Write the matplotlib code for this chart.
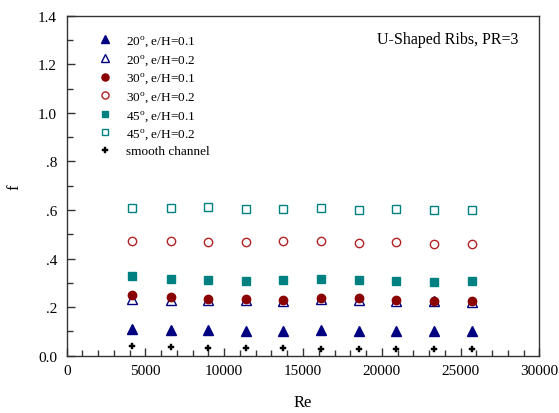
import matplotlib
matplotlib.use("Agg")
import matplotlib.pyplot as plt
from matplotlib.ticker import MultipleLocator, FixedLocator, FixedFormatter

plt.rcParams['font.family'] = ['Liberation Serif', 'DejaVu Serif']
plt.rcParams['mathtext.fontset'] = 'custom'
plt.rcParams['mathtext.rm'] = 'Liberation Serif'

re = [4150, 6600, 8970, 11350, 13750, 16120, 18530, 20900, 23300, 25700]
f_20_01 = [0.110, 0.106, 0.106, 0.102, 0.102, 0.106, 0.102, 0.103, 0.102, 0.102]
f_20_02 = [0.232, 0.231, 0.229, 0.229, 0.226, 0.232, 0.230, 0.226, 0.224, 0.223]
f_30_01 = [0.249, 0.240, 0.235, 0.235, 0.229, 0.239, 0.239, 0.229, 0.226, 0.226]
f_30_02 = [0.472, 0.472, 0.468, 0.468, 0.472, 0.471, 0.464, 0.467, 0.459, 0.459]
f_45_01 = [0.327, 0.317, 0.310, 0.306, 0.310, 0.316, 0.313, 0.307, 0.303, 0.309]
f_45_02 = [0.607, 0.607, 0.612, 0.603, 0.605, 0.610, 0.600, 0.602, 0.600, 0.600]
f_smooth = [0.040, 0.036, 0.033, 0.030, 0.030, 0.029, 0.029, 0.026, 0.026, 0.026]

labels = [r"20$^{\mathrm{o}}$, e/H=0.1", r"20$^{\mathrm{o}}$, e/H=0.2",
          r"30$^{\mathrm{o}}$, e/H=0.1", r"30$^{\mathrm{o}}$, e/H=0.2",
          r"45$^{\mathrm{o}}$, e/H=0.1", r"45$^{\mathrm{o}}$, e/H=0.2",
          "smooth channel"]
y_ticks = [0.0, 0.2, 0.4, 0.6, 0.8, 1.0, 1.2, 1.4]
y_tick_labels = ['0.0', '.2', '.4', '.6', '.8', '1.0', '1.2', '1.4']
x_ticks = [0, 5000, 10000, 15000, 20000, 25000, 30000]

navy = '#000080'
dred = '#8B0000'
red_open = '#B22222'
teal = '#008080'

fig = plt.figure(figsize=(5.59, 4.14), dpi=100)
ax = fig.add_axes([0.1193, 0.1384, 0.8455, 0.8213])

ax.plot(re, f_20_01, ls='none', marker='^', ms=7, mfc=navy, mec=navy, label=labels[0])
ax.plot(re, f_20_02, ls='none', marker='^', ms=7, mfc='none', mec=navy, mew=1.0, label=labels[1])
ax.plot(re, f_30_01, ls='none', marker='o', ms=6, mfc=dred, mec=dred, label=labels[2])
ax.plot(re, f_30_02, ls='none', marker='o', ms=6, mfc='none', mec=red_open, mew=1.0, label=labels[3])
ax.plot(re, f_45_01, ls='none', marker='s', ms=5.5, mfc=teal, mec=teal, label=labels[4])
ax.plot(re, f_45_02, ls='none', marker='s', ms=5.5, mfc='none', mec=teal, mew=1.0, label=labels[5])
ax.plot(re, f_smooth, ls='none', marker='P', ms=5, mfc='black', mec='black', mew=0.3, label=labels[6])

ax.set_xlim(0, 30000)
ax.set_ylim(0, 1.4)
ax.xaxis.set_major_locator(FixedLocator(x_ticks))
ax.xaxis.set_minor_locator(MultipleLocator(1000))
ax.yaxis.set_major_locator(FixedLocator(y_ticks))
ax.yaxis.set_major_formatter(FixedFormatter(y_tick_labels))
ax.yaxis.set_minor_locator(MultipleLocator(0.1))
ax.tick_params(which='both', direction='in', top=False, right=False, labelsize=11, color='#333333')
ax.tick_params(which='major', length=6, width=1)
ax.tick_params(which='minor', length=4, width=1)
ax.tick_params(axis='y', which='major', pad=7)
ax.tick_params(axis='x', which='major', pad=6)
for s in ax.spines.values():
    s.set_color('#333333')
    s.set_linewidth(1.0)

ax.set_xlabel('Re', fontsize=12, labelpad=12)
ax.set_ylabel('f', fontsize=12)
ax.yaxis.set_label_coords(-0.094, 0.5)

ax.text(0.807, 0.931, 'U-Shaped Ribs, PR=3', transform=ax.transAxes, ha='center', va='center', fontsize=11.5)

leg = ax.legend(loc='upper left', bbox_to_anchor=(0.04, 0.982), frameon=False, fontsize=9.5,
                handletextpad=1.0, labelspacing=0.3, handlelength=1.2, markerscale=0.85)

fig.savefig('out.png', dpi=100)
